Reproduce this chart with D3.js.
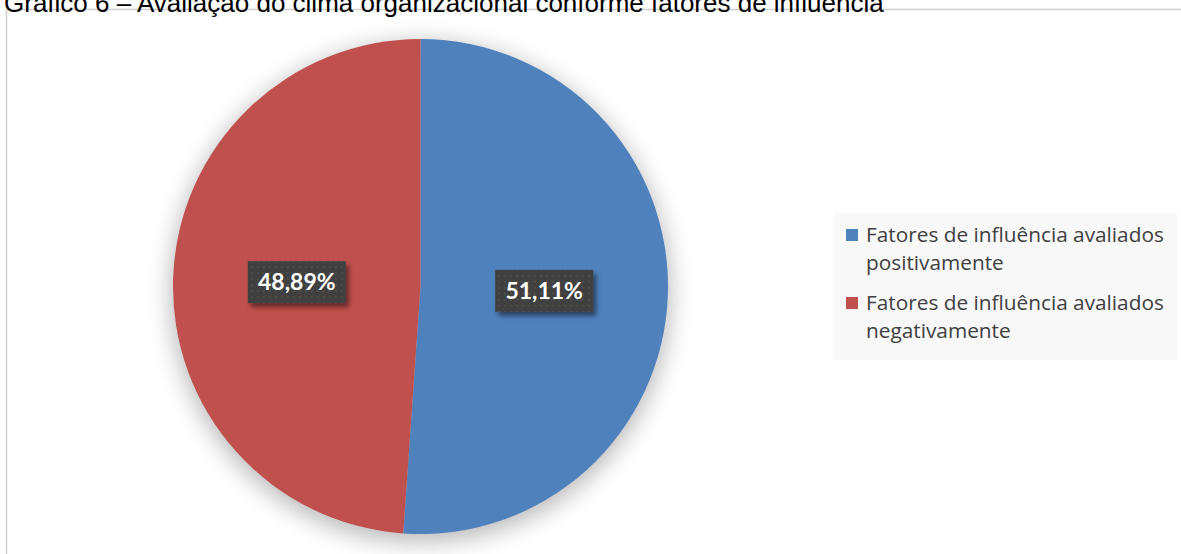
<!DOCTYPE html>
<html>
<head>
<meta charset="utf-8">
<script src="https://cdn.jsdelivr.net/npm/d3@7"></script>
<style>
  body { margin: 0; background: #fff; overflow: hidden; }
</style>
</head>
<body>
<div id="chart"></div>
<script>
const categories = [ 'Fatores de influência avaliados positivamente', 'Fatores de influência avaliados negativamente' ];
const legendLines = [ [ 'Fatores de influência avaliados', 'positivamente' ], [ 'Fatores de influência avaliados', 'negativamente' ] ];
const values = [ 51.11, 48.89 ];
const valueLabels = [ '51,11%', '48,89%' ];
const colors = [ '#4f81bd', '#c0504d' ];
const title = 'Gráfico 6 – Avaliação do clima organizacional conforme fatores de influência';

const width = 1181, height = 554;
const cx = 420.5, cy = 286.5, radius = 247.5;

const svg = d3.select( '#chart' ).append( 'svg' )
  .attr( 'width', width )
  .attr( 'height', height );

const defs = svg.append( 'defs' );

// soft shadow behind the pie
const shadow = defs.append( 'filter' ).attr( 'id', 'pieShadow' )
  .attr( 'x', '-20%' ).attr( 'y', '-20%' ).attr( 'width', '140%' ).attr( 'height', '140%' );
shadow.append( 'feGaussianBlur' ).attr( 'stdDeviation', 12 );

// small shadow for the label boxes
const boxShadow = defs.append( 'filter' ).attr( 'id', 'boxShadow' )
  .attr( 'x', '-20%' ).attr( 'y', '-30%' ).attr( 'width', '150%' ).attr( 'height', '180%' );
boxShadow.append( 'feGaussianBlur' ).attr( 'in', 'SourceAlpha' ).attr( 'stdDeviation', 2.5 );
boxShadow.append( 'feOffset' ).attr( 'dx', 3 ).attr( 'dy', 4 ).attr( 'result', 'off' );
boxShadow.append( 'feComponentTransfer' ).append( 'feFuncA' ).attr( 'type', 'linear' ).attr( 'slope', 0.5 );
const merge = boxShadow.append( 'feMerge' );
merge.append( 'feMergeNode' );
merge.append( 'feMergeNode' ).attr( 'in', 'SourceGraphic' );

// dotted pattern of the label boxes
const pat = defs.append( 'pattern' ).attr( 'id', 'dots' )
  .attr( 'width', 6 ).attr( 'height', 6 ).attr( 'patternUnits', 'userSpaceOnUse' );
pat.append( 'rect' ).attr( 'width', 6 ).attr( 'height', 6 ).attr( 'fill', '#404040' );
pat.append( 'rect' ).attr( 'x', 2 ).attr( 'y', 2 ).attr( 'width', 2 ).attr( 'height', 2 ).attr( 'fill', '#4e4e4e' );

// chart frame
svg.append( 'rect' )
  .attr( 'x', 6.5 ).attr( 'y', 9.5 )
  .attr( 'width', width + 10 ).attr( 'height', height + 10 )
  .attr( 'fill', '#fff' )
  .attr( 'stroke', '#d0d0d0' ).attr( 'stroke-width', 1.5 );

// title (clipped at the top of the page, as in the source)
svg.append( 'text' )
  .attr( 'x', 4 ).attr( 'y', 12 )
  .attr( 'font-family', 'Liberation Sans, Arial, sans-serif' )
  .attr( 'font-size', 26 )
  .attr( 'fill', '#000' )
  .text( title );

const g = svg.append( 'g' ).attr( 'transform', 'translate(' + cx + ',' + cy + ')' );

g.append( 'circle' )
  .attr( 'cx', 0 ).attr( 'cy', 6 ).attr( 'r', radius + 2 )
  .attr( 'fill', '#000' ).attr( 'opacity', 0.28 )
  .attr( 'filter', 'url(#pieShadow)' );

const pie = d3.pie().sort( null ).value( d => d );
const arcs = pie( values );
const arc = d3.arc().innerRadius( 0 ).outerRadius( radius );

g.selectAll( 'path.slice' )
  .data( arcs )
  .enter().append( 'path' )
    .attr( 'class', 'slice' )
    .attr( 'd', arc )
    .attr( 'fill', ( d, i ) => colors[ i ] );

// data labels
const labelArc = d3.arc().innerRadius( radius * 0.5 ).outerRadius( radius * 0.5 );
const boxW = 98, boxH = 42;
const labels = g.selectAll( 'g.lbl' )
  .data( arcs )
  .enter().append( 'g' )
    .attr( 'class', 'lbl' )
    .attr( 'transform', d => {
      const c = labelArc.centroid( d );
      return 'translate(' + c[ 0 ] + ',' + c[ 1 ] + ')';
    } );

labels.append( 'rect' )
  .attr( 'x', -boxW / 2 ).attr( 'y', -boxH / 2 )
  .attr( 'width', boxW ).attr( 'height', boxH )
  .attr( 'fill', 'url(#dots)' )
  .attr( 'filter', 'url(#boxShadow)' );

labels.append( 'text' )
  .attr( 'text-anchor', 'middle' )
  .attr( 'dy', '0.36em' )
  .attr( 'font-family', 'Lato, "Open Sans", sans-serif' )
  .attr( 'font-weight', 'bold' )
  .attr( 'font-size', 23 )
  .attr( 'fill', '#fff' )
  .text( ( d, i ) => valueLabels[ i ] );

// legend
const legend = svg.append( 'g' ).attr( 'transform', 'translate(833,213)' );
legend.append( 'rect' )
  .attr( 'width', 344 ).attr( 'height', 147 )
  .attr( 'fill', '#f8f8f8' );

const items = legend.selectAll( 'g.item' )
  .data( categories )
  .enter().append( 'g' )
    .attr( 'class', 'item' )
    .attr( 'transform', ( d, i ) => 'translate(0,' + ( 16 + i * 68 ) + ')' );

items.append( 'rect' )
  .attr( 'x', 13 ).attr( 'y', 0 )
  .attr( 'width', 12 ).attr( 'height', 12 )
  .attr( 'fill', ( d, i ) => colors[ i ] );

items.append( 'text' )
  .attr( 'x', 33 ).attr( 'y', 13 )
  .attr( 'font-family', '"Open Sans", Lato, sans-serif' )
  .attr( 'font-size', 20.8 )
  .attr( 'fill', '#404040' )
  .selectAll( 'tspan' )
  .data( ( d, i ) => legendLines[ i ] )
  .enter().append( 'tspan' )
    .attr( 'x', 33 )
    .attr( 'dy', ( d, j ) => j === 0 ? 0 : 28 )
    .text( d => d );
</script>
</body>
</html>
